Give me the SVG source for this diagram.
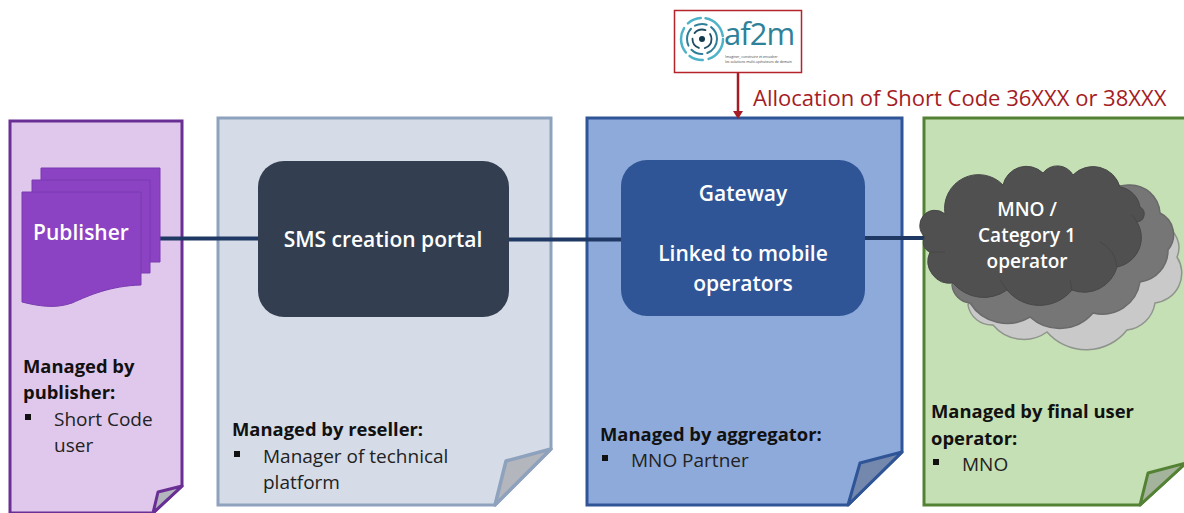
<svg xmlns="http://www.w3.org/2000/svg" width="1184" height="513" viewBox="0 0 1184 513">
<style>
text{font-family:"Open Sans","Noto Sans","Liberation Sans",sans-serif;}
.w{fill:#fff;font-weight:600;text-anchor:middle;font-size:21px}
.b{fill:#111;font-weight:700;font-size:18.400px}
.t{fill:#222;font-size:19px}
.c{font-size:19px}
.fold{fill:#b3b6bd}
.bul{fill:#111}
</style>
<rect width="1184" height="513" fill="#fff"/>
<g id="panel-publisher">
<path d="M10 121H182V486L153 513H10Z" fill="#dfc8ec" stroke="#6a2f95" stroke-width="3"/>
<path d="M182 486L158 492L153 513Z" class="fold" stroke="#6a2f95" stroke-width="3" stroke-linejoin="round"/>
</g>
<g id="panel-reseller">
<path d="M218 118H551V449L495 505H218Z" fill="#d5dce7" stroke="#8ea2bd" stroke-width="3"/>
<path d="M551 449L506 461L495 505Z" class="fold" stroke="#8ea2bd" stroke-width="3.500" stroke-linejoin="round"/>
</g>
<g id="panel-aggregator">
<path d="M587 118H902V452L848 505H587Z" fill="#8eaadb" stroke="#2f5597" stroke-width="3"/>
<path d="M902 452L860 463L848 505Z" fill="#7487ad" stroke="#2f5597" stroke-width="3" stroke-linejoin="round"/>
</g>
<g id="panel-operator">
<path d="M924 118H1186V463L1140 505H924Z" fill="#c5e0b4" stroke="#548235" stroke-width="3"/>
<path d="M1186 463L1148 473L1140 505Z" fill="#a4b39c" stroke="#548235" stroke-width="3" stroke-linejoin="round"/>
</g>
<g id="connectors" fill="none">
<path d="M160 238.500H260M508 239.500H622M864 238H926" stroke="#1f3864" stroke-width="4"/>
<path d="M738 72V112" stroke="#a51c24" stroke-width="2.500"/>
<path d="M733 111H743L738 119Z" fill="#a51c24"/>
</g>
<g id="publisher">
<path d="M41 168H160V262H41Z" fill="#8b43c4" stroke="#7a3ab0"/>
<path d="M32 180H150V273H32Z" fill="#8b43c4" stroke="#7a3ab0"/>
<path d="M22 192H141V285C110 286 90 295 72 303C55 309 38 306 22 302Z" fill="#8b43c4" stroke="#7a3ab0"/>
<text class="w" x="81" y="240">Publisher</text>
</g>
<g id="portal">
<rect x="258" y="161" width="251" height="156" rx="26" fill="#333f50"/>
<text class="w" x="383" y="247">SMS creation portal</text>
</g>
<g id="gateway">
<rect x="621" y="160" width="244" height="156" rx="26" fill="#2f5597"/>
<text class="w" x="743" y="201">Gateway</text>
<text class="w" x="743" y="261">Linked to mobile</text>
<text class="w" x="743" y="291">operators</text>
</g>
<g id="clouds">
<path d="M1000 200L1163 225A24 24 0 0 1 1177 257A30 30 0 0 1 1155 303A32 32 0 0 1 1127 330A52 52 0 0 1 1047 332A40 40 0 0 1 993 325A24 24 0 0 1 968 305Z" fill="#c9c9c9" stroke="#8f948c" stroke-width="1.500"/>
<path d="M1000 200L1128 185A30 30 0 0 1 1160 213A24 24 0 0 1 1168 250A32 32 0 0 1 1140 282A38 38 0 0 1 1093 313A44 44 0 0 1 1030 317A44 44 0 0 1 970 303A20 20 0 0 1 952 285Z" fill="#767676" stroke="#6a6a6a" stroke-width="1.500"/>
<path d="M925 237A15 15 0 0 1 945 214A34 34 0 0 1 1003 185A24 24 0 0 1 1043 173A18 18 0 0 1 1073 175A28 28 0 0 1 1120 187A24 24 0 0 1 1140 207A8 8 0 0 1 1137 222A30 30 0 0 1 1117 267A34 34 0 0 1 1072 290A42 42 0 0 1 1007 290A40 40 0 0 1 953 283A22 22 0 0 1 930 252A10 10 0 0 1 925 237Z" fill="#505050" stroke="#474747"/>
<g fill="none" stroke="#474747" stroke-width="1">
<path d="M1117 267A30 30 0 0 0 1100 242M1072 290L1070 280M1007 290L1000 280M930 252L945 252M1137 222L1132 215"/>
</g>
<text class="w c" x="1027" y="216">MNO /</text>
<text class="w c" x="1027" y="242">Category 1</text>
<text class="w c" x="1027" y="268">operator</text>
</g>
<g id="af2m-logo">
<rect x="674.500" y="10.500" width="127" height="62" fill="#fff" stroke="#b5232b" stroke-width="1.500"/>
<g fill="none" stroke-linecap="round">
<circle cx="702" cy="39" r="21" stroke="#4eb3c8" stroke-width="2.500" stroke-dasharray="26 6 14 5"/>
<circle cx="702" cy="39" r="15" stroke="#2f7f98" stroke-width="2" stroke-dasharray="18 5 12 5"/>
<circle cx="702" cy="39" r="9.500" stroke="#1f4e64" stroke-width="1.800" stroke-dasharray="12 6"/>
</g>
<circle cx="702" cy="39" r="3" fill="#12384a"/>
<text x="724" y="45" font-size="31" fill="#2f8199" style="letter-spacing:-1px">af2m</text>
<text x="725" y="58" font-size="3.500" fill="#444">Imaginer, construire et encadrer</text>
<text x="725" y="63" font-size="3.500" fill="#444">les solutions multi-opérateurs de demain</text>
</g>
<g id="allocation-label">
<text x="753" y="106" font-size="22" fill="#a51c24">Allocation of Short Code 36XXX or 38XXX</text>
</g>
<g id="publisher-notes">
<text class="b" x="23" y="373">Managed by</text>
<text class="b" x="23" y="399">publisher:</text>
<rect class="bul" x="25" y="414" width="6" height="6"/>
<text class="t" x="54" y="426">Short Code</text>
<text class="t" x="54" y="452">user</text>
</g>
<g id="reseller-notes">
<text class="b" x="232" y="436">Managed by reseller:</text>
<rect class="bul" x="234" y="451" width="6" height="6"/>
<text class="t" x="263" y="463">Manager of technical</text>
<text class="t" x="263" y="489">platform</text>
</g>
<g id="aggregator-notes">
<text class="b" x="600" y="441">Managed by aggregator:</text>
<rect class="bul" x="602" y="455" width="6" height="6"/>
<text class="t" x="631" y="467">MNO Partner</text>
</g>
<g id="operator-notes">
<text class="b" x="931" y="418">Managed by final user</text>
<text class="b" x="931" y="445">operator:</text>
<rect class="bul" x="933" y="459" width="6" height="6"/>
<text class="t" x="962" y="471">MNO</text>
</g>
</svg>
